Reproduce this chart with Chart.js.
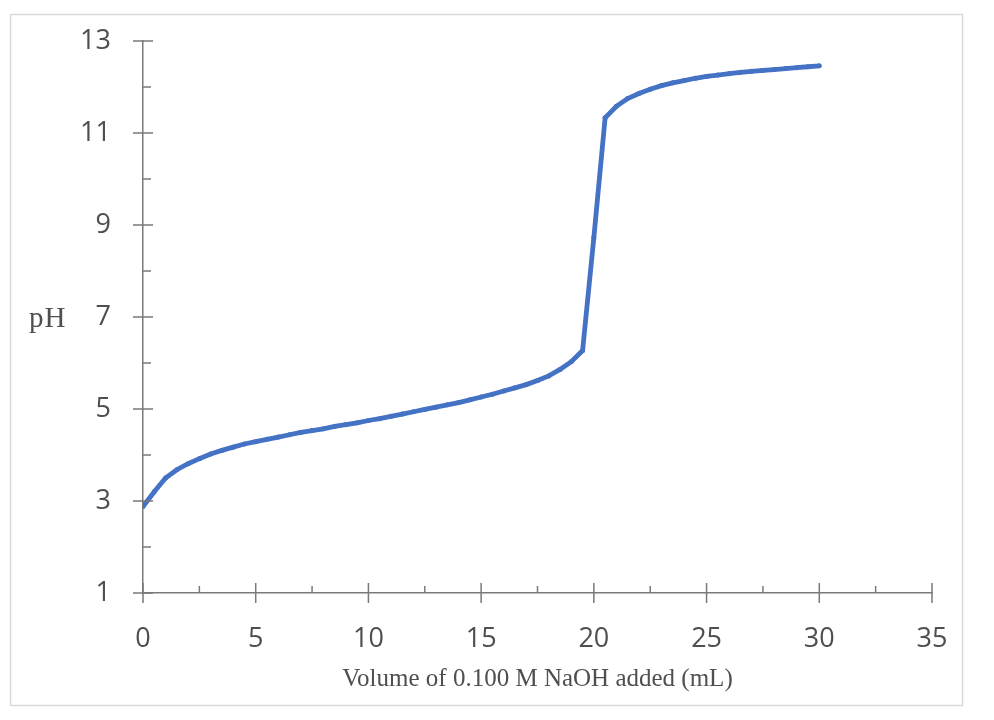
<!DOCTYPE html>
<html>
<head>
<meta charset="utf-8">
<script src="https://cdn.jsdelivr.net/npm/chart.js@4/dist/chart.umd.min.js"></script>
<style>
  html, body { margin: 0; padding: 0; background: #fff; }
  #wrap { width: 994px; height: 720px; position: relative; }
</style>
</head>
<body>
<div id="wrap"><canvas id="titration"></canvas></div>
<script>
// volume of NaOH added (mL)
const volumes = [0, 0.5, 1, 1.5, 2, 2.5, 3, 3.5, 4, 4.5, 5, 5.5, 6, 6.5, 7, 7.5, 8, 8.5, 9, 9.5,
    10, 10.5, 11, 11.5, 12, 12.5, 13, 13.5, 14, 14.5, 15, 15.5, 16, 16.5, 17, 17.5, 18, 18.5, 19, 19.5,
    20, 20.5, 21, 21.5, 22, 22.5, 23, 23.5, 24, 24.5, 25, 25.5, 26, 26.5, 27, 27.5, 28, 28.5, 29, 29.5, 30];
// pH
const phValues = [2.88, 3.2, 3.5, 3.68, 3.81, 3.92, 4.02, 4.1, 4.17, 4.24, 4.29, 4.34, 4.39, 4.44, 4.49, 4.53, 4.57, 4.62, 4.66, 4.7,
    4.75, 4.79, 4.84, 4.89, 4.94, 4.99, 5.04, 5.09, 5.14, 5.2, 5.26, 5.32, 5.39, 5.46, 5.53, 5.62, 5.72, 5.86, 6.03, 6.27,
    8.73, 11.33, 11.58, 11.75, 11.86, 11.95, 12.03, 12.09, 12.14, 12.19, 12.23, 12.26, 12.29, 12.32, 12.34, 12.36, 12.38, 12.4, 12.42, 12.44, 12.46];

const xTicks = [0, 5, 10, 15, 20, 25, 30, 35];
const yTicks = [1, 3, 5, 7, 9, 11, 13];
const xMinorTicks = [2.5, 7.5, 12.5, 17.5, 22.5, 27.5, 32.5];
const yMinorTicks = [2, 4, 6, 8, 10, 12];

const axisColor = '#7a7a7a';
const labelColor = '#4f4f4f';

// frame round the whole picture + the "pH" label
const framePlugin = {
    id: 'frame',
    beforeDraw(chart) {
        const ctx = chart.ctx;
        ctx.save();
        ctx.strokeStyle = '#dadada';
        ctx.lineWidth = 1.5;
        ctx.strokeRect(10.5, 14.5, 952, 691);
        ctx.restore();
    },
    afterDraw(chart) {
        const ctx = chart.ctx;
        const y = chart.scales.y;
        ctx.save();
        ctx.fillStyle = labelColor;
        ctx.font = '29px "Liberation Serif", "Times New Roman", serif';
        ctx.letterSpacing = '1px';
        ctx.textAlign = 'left';
        ctx.textBaseline = 'middle';
        ctx.fillText('pH', 29, y.getPixelForValue(7) + 2);
        ctx.restore();
    }
};

// Excel-style tick marks: major cross the axis, minor sit inside
const tickPlugin = {
    id: 'tickMarks',
    afterDraw(chart) {
        const ctx = chart.ctx;
        const xs = chart.scales.x, ys = chart.scales.y;
        const left = chart.chartArea.left, bottom = chart.chartArea.bottom;
        ctx.save();
        ctx.strokeStyle = axisColor;
        ctx.lineWidth = 1.5;
        ctx.beginPath();
        yTicks.forEach(v => {
            const p = ys.getPixelForValue(v);
            ctx.moveTo(left - 10, p); ctx.lineTo(left + 10, p);
        });
        yMinorTicks.forEach(v => {
            const p = ys.getPixelForValue(v);
            ctx.moveTo(left, p); ctx.lineTo(left + 8, p);
        });
        xTicks.forEach(v => {
            const p = xs.getPixelForValue(v);
            ctx.moveTo(p, bottom - 10); ctx.lineTo(p, bottom + 10);
        });
        xMinorTicks.forEach(v => {
            const p = xs.getPixelForValue(v);
            ctx.moveTo(p, bottom - 7); ctx.lineTo(p, bottom);
        });
        ctx.stroke();
        ctx.restore();
    }
};

new Chart(document.getElementById('titration'), {
    type: 'line',
    data: {
        datasets: [{
            data: volumes.map((v, i) => ({ x: v, y: phValues[i] })),
            borderColor: '#4472C4',
            backgroundColor: '#4472C4',
            borderWidth: 4.8,
            pointRadius: 2.5,
            pointBorderWidth: 0,
            tension: 0
        }]
    },
    options: {
        responsive: true,
        maintainAspectRatio: false,
        animation: false,
        layout: { padding: { top: 41, right: 62, left: 0, bottom: 22 } },
        plugins: { legend: { display: false }, tooltip: { enabled: false } },
        scales: {
            x: {
                type: 'linear',
                min: 0, max: 35,
                afterBuildTicks: s => { s.ticks = xTicks.map(v => ({ value: v })); },
                afterFit: s => { s.height = 105; s.paddingLeft = 0; s.paddingRight = 0; },
                grid: { display: false, drawTicks: false },
                border: { display: true, color: axisColor, width: 1.5 },
                ticks: {
                    color: labelColor,
                    padding: 30,
                    maxRotation: 0,
                    font: { family: '"Open Sans", sans-serif', size: 27 }
                },
                title: {
                    display: true,
                    text: 'Volume of 0.100 M NaOH added (mL)',
                    color: labelColor,
                    padding: { top: 4 },
                    font: { family: '"Liberation Serif", "Times New Roman", serif', size: 25 }
                }
            },
            y: {
                type: 'linear',
                min: 1, max: 13,
                afterBuildTicks: s => { s.ticks = yTicks.map(v => ({ value: v })); },
                afterFit: s => { s.width = 143; s.paddingTop = 0; s.paddingBottom = 0; },
                grid: { display: false, drawTicks: false },
                border: { display: true, color: axisColor, width: 1.5 },
                ticks: {
                    color: labelColor,
                    padding: 32,
                    font: { family: '"Open Sans", sans-serif', size: 27 }
                }
            }
        }
    },
    plugins: [framePlugin, tickPlugin]
});
</script>
</body>
</html>
